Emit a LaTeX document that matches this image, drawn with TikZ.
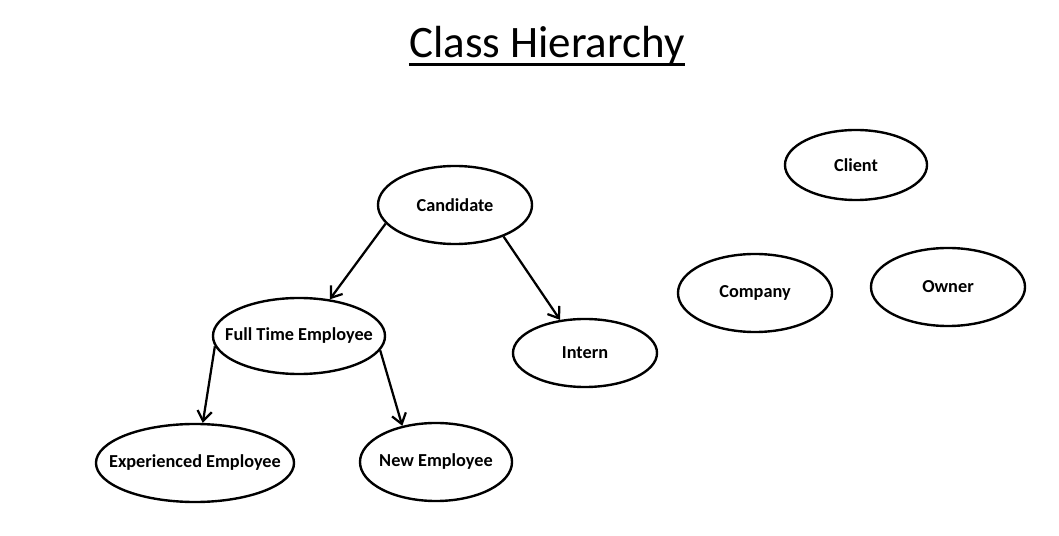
\documentclass[tikz,border=0pt]{standalone}
\usepackage{fontspec}
\setmainfont{Carlito}
\usepackage{tikz}
\usetikzlibrary{shapes,arrows.meta,positioning}

\begin{document}
\begin{tikzpicture}[
            x=0.025cm, y=-0.025cm,
            every node/.style={font=\fontsize{13}{15}\selectfont\bfseries},
            cls/.style={draw, ellipse, line width=1.7pt, inner xsep=-0.6cm, inner ysep=0pt},
            inh/.style={-{Straight Barb[length=2.5mm,width=3.6mm]}, line width=1.6pt},
        ]
            \useasboundingbox (0,0) rectangle (1059,536);
            % title
            \node[font=\fontsize{32}{36}\selectfont, inner sep=0pt, anchor=base] (title) at (547,58) {Class Hierarchy};
            \draw[line width=2.2pt] ([yshift=-0.17cm]title.base west) -- ([yshift=-0.17cm]title.base east);
            % classes
            \node[cls, minimum width=3.85cm, minimum height=1.95cm] (cand) at (455,205) {Candidate};
            \node[cls, minimum width=4.3cm, minimum height=1.9cm] (fte) at (299,336) {Full Time Employee};
            \node[cls, minimum width=3.6cm, minimum height=1.7cm] (intern) at (585,353) {Intern};
            \node[cls, minimum width=4.95cm, minimum height=1.95cm] (exp) at (195,463) {Experienced Employee};
            \node[cls, minimum width=3.8cm, minimum height=1.95cm] (new) at (436,462) {New Employee};
            \node[cls, minimum width=3.55cm, minimum height=1.75cm] (client) at (856,165) {Client};
            \node[cls, minimum width=3.85cm, minimum height=1.95cm] (company) at (755,293) {Company};
            \node[cls, minimum width=3.85cm, minimum height=1.95cm] (owner) at (948,287) {Owner};
            % inheritance
            \draw[inh] (cand.195) -- (fte.50);
            \draw[inh] (cand.327) -- (intern.127);
            \draw[inh] (fte.187) -- (exp.79);
            \draw[inh] (fte.350) -- (new.133);
        \end{tikzpicture}
\end{document}
